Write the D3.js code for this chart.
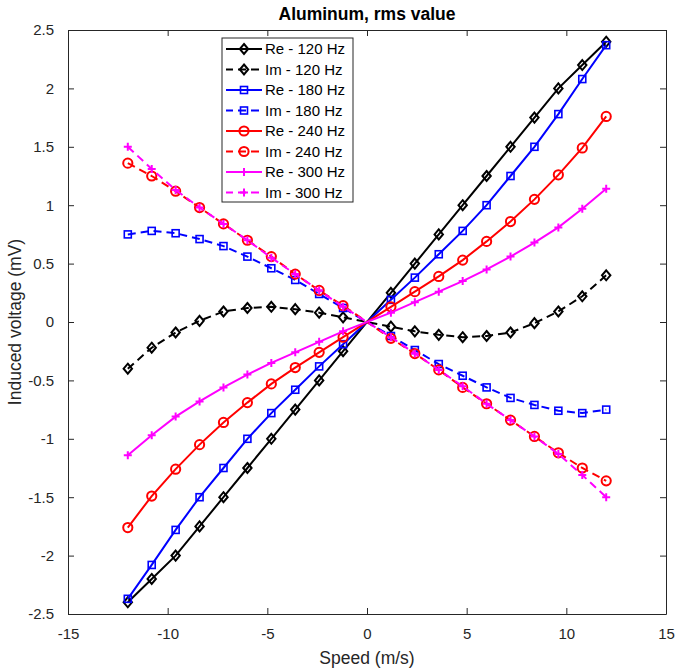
<!DOCTYPE html>
<html>
<head>
<meta charset="utf-8">
<script src="https://cdn.jsdelivr.net/npm/d3@7"></script>
<style>
  body { margin: 0; background: #fff; }
  text { font-family: "Liberation Sans", Arial, sans-serif; }
</style>
</head>
<body>
<div id="chart"></div>
<script>
// speeds (m/s)
var speed = [-12, -10.8, -9.6, -8.4, -7.2, -6, -4.8, -3.6, -2.4, -1.2,
             1.2, 2.4, 3.6, 4.8, 6, 7.2, 8.4, 9.6, 10.8, 12];

var re120 = [-2.4, -2.2, -2.0, -1.75, -1.5, -1.25, -1.0, -0.75, -0.5, -0.25,
             0.25, 0.5, 0.75, 1.0, 1.25, 1.5, 1.75, 2.0, 2.2, 2.4];
var im120 = [-0.4, -0.22, -0.09, 0.01, 0.09, 0.12, 0.13, 0.11, 0.08, 0.04,
             -0.04, -0.08, -0.11, -0.13, -0.12, -0.09, -0.01, 0.09, 0.22, 0.4];
var re180 = [-2.37, -2.08, -1.78, -1.5, -1.25, -1.0, -0.78, -0.58, -0.38, -0.19,
             0.19, 0.38, 0.58, 0.78, 1.0, 1.25, 1.5, 1.78, 2.08, 2.37];
var im180 = [0.75, 0.78, 0.76, 0.71, 0.65, 0.56, 0.46, 0.36, 0.24, 0.12,
             -0.12, -0.24, -0.36, -0.46, -0.56, -0.65, -0.71, -0.76, -0.78, -0.75];
var re240 = [-1.76, -1.49, -1.26, -1.05, -0.86, -0.69, -0.53, -0.39, -0.26, -0.13,
             0.13, 0.26, 0.39, 0.53, 0.69, 0.86, 1.05, 1.26, 1.49, 1.76];
var im240 = [1.36, 1.25, 1.12, 0.98, 0.84, 0.70, 0.56, 0.41, 0.27, 0.14,
             -0.14, -0.27, -0.41, -0.56, -0.70, -0.84, -0.98, -1.12, -1.25, -1.36];
var re300 = [-1.14, -0.97, -0.81, -0.68, -0.56, -0.45, -0.35, -0.26, -0.17, -0.08,
             0.08, 0.17, 0.26, 0.35, 0.45, 0.56, 0.68, 0.81, 0.97, 1.14];
var im300 = [1.5, 1.31, 1.13, 0.98, 0.84, 0.70, 0.55, 0.41, 0.27, 0.13,
             -0.13, -0.27, -0.41, -0.55, -0.70, -0.84, -0.98, -1.13, -1.31, -1.5];

var seriesNames = ["Re - 120 Hz", "Im - 120 Hz", "Re - 180 Hz", "Im - 180 Hz",
                   "Re - 240 Hz", "Im - 240 Hz", "Re - 300 Hz", "Im - 300 Hz"];
var seriesValues = [re120, im120, re180, im180, re240, im240, re300, im300];
var seriesColors = ["#000000", "#000000", "#0000ff", "#0000ff",
                    "#ff0000", "#ff0000", "#ff00ff", "#ff00ff"];
var seriesMarkers = ["diamond", "diamond", "square", "square",
                     "circle", "circle", "plus", "plus"];

var xTicks = [-15, -10, -5, 0, 5, 10, 15];
var yTicks = [-2.5, -2, -1.5, -1, -0.5, 0, 0.5, 1, 1.5, 2, 2.5];

// set the dimensions and margins of the graph
var W = 676, H = 672;
var margin = {top: 30, right: 10, bottom: 58, left: 68},
    width = W - margin.left - margin.right,
    height = H - margin.top - margin.bottom;

var x = d3.scaleLinear().domain([-15, 15]).range([0, width]);
var y = d3.scaleLinear().domain([-2.5, 2.5]).range([height, 0]);

var svg = d3.select("#chart").append("svg")
    .attr("width", W)
    .attr("height", H)
  .append("g")
    .attr("transform", "translate(" + margin.left + "," + margin.top + ")");

// axes, ticks inward, box around
var fmt = function(d) { return String(d); };
var ax = [
  {a: d3.axisBottom(x).tickValues(xTicks).tickFormat(fmt), t: "translate(0," + height + ")"},
  {a: d3.axisTop(x).tickValues(xTicks).tickFormat(""), t: "translate(0,0)"},
  {a: d3.axisLeft(y).tickValues(yTicks).tickFormat(fmt), t: "translate(0,0)"},
  {a: d3.axisRight(y).tickValues(yTicks).tickFormat(""), t: "translate(" + width + ",0)"}
];
ax.forEach(function(o, i) {
  var g = svg.append("g").attr("transform", o.t)
      .call(o.a.tickSizeInner(-6).tickSizeOuter(0).tickPadding(12));
  g.select(".domain").attr("stroke", "#262626").attr("stroke-width", 1);
  g.selectAll(".tick line").attr("stroke", "#262626");
  g.selectAll(".tick text").attr("fill", "#262626").style("font-size", "15px");
  if (i == 0) g.selectAll(".tick text").attr("dy", "0.85em");
  if (i == 2) g.selectAll(".tick text").attr("dx", "-2px");
});

// title and labels
svg.append("text")
    .attr("x", width / 2).attr("y", -10)
    .attr("text-anchor", "middle")
    .style("font-size", "17.5px").style("font-weight", "bold")
    .text("Aluminum, rms value");
svg.append("text")
    .attr("x", width / 2).attr("y", height + 50)
    .attr("text-anchor", "middle")
    .attr("fill", "#262626")
    .style("font-size", "17.5px")
    .text("Speed (m/s)");
svg.append("text")
    .attr("transform", "translate(-47," + (height / 2) + ") rotate(-90)")
    .attr("text-anchor", "middle")
    .attr("fill", "#262626")
    .style("font-size", "17.5px")
    .text("Induced voltage (mV)");

// marker drawing
function drawMarker(g, kind, color, cx, cy) {
  if (kind == "diamond") {
    g.append("path")
      .attr("d", "M" + cx + "," + (cy - 5) + "L" + (cx + 4.2) + "," + cy + "L" + cx + "," + (cy + 5) + "L" + (cx - 4.2) + "," + cy + "Z")
      .attr("fill", "none").attr("stroke", color).attr("stroke-width", 2);
  } else if (kind == "square") {
    g.append("rect")
      .attr("x", cx - 3.5).attr("y", cy - 3.5).attr("width", 7).attr("height", 7)
      .attr("fill", "none").attr("stroke", color).attr("stroke-width", 1.6);
  } else if (kind == "circle") {
    g.append("circle")
      .attr("cx", cx).attr("cy", cy).attr("r", 4.6)
      .attr("fill", "none").attr("stroke", color).attr("stroke-width", 2);
  } else {
    g.append("path")
      .attr("d", "M" + (cx - 4) + "," + cy + "H" + (cx + 4) + "M" + cx + "," + (cy - 4) + "V" + (cy + 4))
      .attr("stroke", color).attr("stroke-width", 2);
  }
}

var line = d3.line()
    .x(function(d) { return x(d[0]); })
    .y(function(d) { return y(d[1]); });

seriesValues.forEach(function(vals, i) {
  var pts = speed.map(function(s, j) { return [s, vals[j]]; });
  var dashed = seriesNames[i].indexOf("Im") == 0;
  var g = svg.append("g");
  g.append("path")
      .datum(pts)
      .attr("d", line)
      .attr("fill", "none")
      .attr("stroke", seriesColors[i])
      .attr("stroke-width", 2)
      .attr("stroke-dasharray", dashed ? "8,5" : null);
  pts.forEach(function(p) {
    drawMarker(g, seriesMarkers[i], seriesColors[i], x(p[0]), y(p[1]));
  });
});

// legend
var lx = 222 - margin.left, ly = 38 - margin.top, rowH = 20.5;
var legend = svg.append("g").attr("transform", "translate(" + lx + "," + ly + ")");
legend.append("rect")
    .attr("width", 131).attr("height", 164)
    .attr("fill", "#fff").attr("stroke", "#262626").attr("stroke-width", 1);
seriesNames.forEach(function(name, i) {
  var cy = 11 + i * rowH;
  var dashed = name.indexOf("Im") == 0;
  legend.append("line")
      .attr("x1", 4).attr("x2", 40).attr("y1", cy).attr("y2", cy)
      .attr("stroke", seriesColors[i]).attr("stroke-width", 2)
      .attr("stroke-dasharray", dashed ? "8,5" : null)
      .attr("stroke-dashoffset", dashed ? 1 : null);
  drawMarker(legend, seriesMarkers[i], seriesColors[i], 22, cy);
  legend.append("text")
      .attr("x", 43).attr("y", cy).attr("dy", "0.36em")
      .style("font-size", "15px")
      .text(name);
});
</script>
</body>
</html>
